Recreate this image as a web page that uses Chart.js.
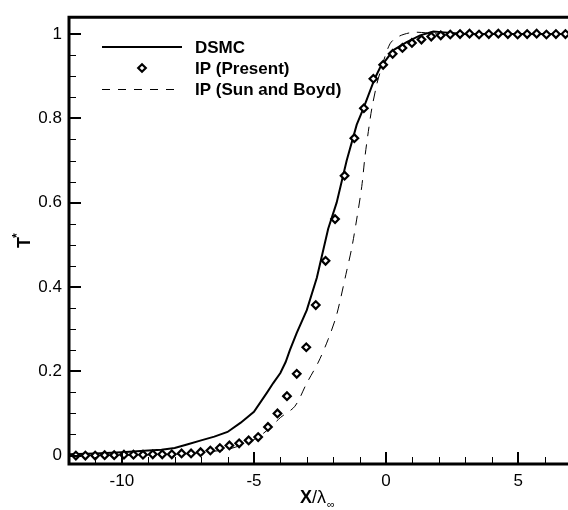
<!DOCTYPE html>
<html>
<head>
<meta charset="utf-8">
<script src="https://cdn.jsdelivr.net/npm/chart.js@4"></script>
<style>
  html, body { margin: 0; padding: 0; background: #fff; overflow: hidden; }
  #wrap { position: relative; width: 580px; height: 510px; }
</style>
</head>
<body>
<div id="wrap"><canvas id="shockChart"></canvas></div>
<script>
const xTicks = [-10, -5, 0, 5]
const yTicks = [0, 0.2, 0.4, 0.6, 0.8, 1]

// DSMC temperature profile
const dsmcX = [-12, -11, -10, -9, -8.5, -8, -7.5, -7, -6.5, -6, -5.5, -5, -4.5, -4.27, -4, -3.8, -3.64, -3.38, -3.0, -2.62, -2.19, -1.87, -1.49, -1.11, -0.86, -0.43, -0.23, 0.28, 0.78, 1.29, 1.79, 2.2, 3, 4, 5, 6, 7]
const dsmcY = [0.003, 0.005, 0.008, 0.012, 0.014, 0.018, 0.027, 0.036, 0.045, 0.056, 0.078, 0.104, 0.15, 0.172, 0.196, 0.222, 0.25, 0.291, 0.345, 0.422, 0.538, 0.6, 0.7, 0.785, 0.823, 0.894, 0.92, 0.962, 0.981, 0.997, 1.006, 1.004, 1.0, 1.0, 1.0, 1.0, 1.0]

// IP (Present) markers
const ipX = [-11.74, -11.38, -11.01, -10.65, -10.29, -9.92, -9.56, -9.2, -8.83, -8.47, -8.11, -7.74, -7.38, -7.02, -6.65, -6.29, -5.93, -5.56, -5.2, -4.84, -4.47, -4.11, -3.75, -3.38, -3.02, -2.66, -2.29, -1.93, -1.57, -1.2, -0.84, -0.48, -0.11, 0.25, 0.62, 0.98, 1.34, 1.71, 2.07, 2.43, 2.8, 3.16, 3.52, 3.89, 4.25, 4.61, 4.98, 5.34, 5.7, 6.07, 6.43, 6.79]
const ipY = [0.0, 0.0, 0.0, 0.001, 0.001, 0.002, 0.002, 0.002, 0.003, 0.003, 0.003, 0.005, 0.005, 0.008, 0.012, 0.018, 0.024, 0.029, 0.036, 0.044, 0.068, 0.1, 0.141, 0.194, 0.257, 0.357, 0.462, 0.561, 0.664, 0.753, 0.824, 0.894, 0.927, 0.953, 0.967, 0.979, 0.987, 0.994, 0.997, 0.999, 1.0, 1.001, 0.999, 1.0, 1.001, 1.0, 0.999, 1.0, 1.001, 0.999, 1.0, 1.0]

// IP (Sun and Boyd)
const sbX = [-12, -8, -6, -5, -4.5, -4, -3.45, -3.0, -2.56, -2.19, -1.87, -1.49, -1.3, -1.11, -0.92, -0.8, -0.67, -0.54, -0.35, -0.23, 0.15, 0.5, 1.0, 1.5, 2, 7]
const sbY = [0.0, 0.003, 0.015, 0.038, 0.06, 0.09, 0.117, 0.172, 0.222, 0.276, 0.334, 0.438, 0.492, 0.561, 0.638, 0.708, 0.769, 0.823, 0.881, 0.908, 0.977, 0.995, 1.004, 1.003, 1.0, 1.0]

const FONT = "'Liberation Sans', Arial, Helvetica, sans-serif"

function pts(xs, ys) {
  return xs.map((x, i) => ({ x: x, y: ys[i] }))
}

function diamond(ctx, x, y, r) {
  ctx.beginPath()
  ctx.moveTo(x, y - r)
  ctx.lineTo(x + r, y)
  ctx.lineTo(x, y + r)
  ctx.lineTo(x - r, y)
  ctx.closePath()
  ctx.fillStyle = '#fff'
  ctx.fill()
  ctx.lineWidth = 2.2
  ctx.strokeStyle = '#000'
  ctx.stroke()
}

const framePlugin = {
  id: 'frame',
  afterDraw(chart) {
    const ctx = chart.ctx
    const a = chart.chartArea
    const xs = chart.scales.x
    const ys = chart.scales.y
    ctx.save()
    ctx.strokeStyle = '#000'
    ctx.lineCap = 'butt'

    // inward ticks
    ctx.lineWidth = 1
    for (let v = -11; v <= 7; v++) {
      if (v % 5 === 0) continue
      const px = Math.round(xs.getPixelForValue(v)) + 0.5
      ctx.beginPath(); ctx.moveTo(px, a.bottom); ctx.lineTo(px, a.bottom - 7); ctx.stroke()
    }
    for (let k = 1; k <= 20; k++) {
      if (k % 4 === 0) continue
      const py = Math.round(ys.getPixelForValue(k * 0.05)) + 0.5
      ctx.beginPath(); ctx.moveTo(a.left, py); ctx.lineTo(a.left + 7, py); ctx.stroke()
    }
    ctx.lineWidth = 2
    xTicks.forEach((v) => {
      const px = Math.round(xs.getPixelForValue(v))
      ctx.beginPath(); ctx.moveTo(px, a.bottom); ctx.lineTo(px, a.bottom - 12); ctx.stroke()
    })
    yTicks.forEach((v) => {
      const py = Math.round(ys.getPixelForValue(v))
      ctx.beginPath(); ctx.moveTo(a.left, py); ctx.lineTo(a.left + 12, py); ctx.stroke()
    })

    // frame
    ctx.lineWidth = 3
    ctx.beginPath()
    ctx.moveTo(a.left, a.top)
    ctx.lineTo(a.right, a.top)
    ctx.lineTo(a.right, a.bottom)
    ctx.lineTo(a.left, a.bottom)
    ctx.closePath()
    ctx.stroke()

    // legend
    const lx0 = 102, lx1 = 182, tx = 195
    const rows = [47, 68, 89]
    ctx.lineWidth = 2
    ctx.beginPath(); ctx.moveTo(lx0, rows[0]); ctx.lineTo(lx1, rows[0]); ctx.stroke()
    diamond(ctx, 142, rows[1], 3.8)
    ctx.lineWidth = 1
    ctx.setLineDash([8, 8])
    ctx.beginPath(); ctx.moveTo(lx0, rows[2] + 0.5); ctx.lineTo(lx1, rows[2] + 0.5); ctx.stroke()
    ctx.setLineDash([])
    ctx.fillStyle = '#000'
    ctx.font = 'bold 17px ' + FONT
    ctx.textAlign = 'left'
    ctx.textBaseline = 'middle'
    ctx.fillText('DSMC', tx, rows[0] + 1)
    ctx.fillText('IP (Present)', tx, rows[1] + 1)
    ctx.fillText('IP (Sun and Boyd)', tx, rows[2] + 1)

    // x axis title: X/λ∞
    ctx.textBaseline = 'alphabetic'
    let cx = 300
    ctx.font = 'bold 18px ' + FONT
    ctx.fillText('X', cx, 503)
    cx += ctx.measureText('X').width
    ctx.font = '18px ' + FONT
    ctx.fillText('/λ', cx, 503)
    cx += ctx.measureText('/λ').width + 1
    ctx.font = '11px ' + FONT
    ctx.fillText('∞', cx, 508)

    // y axis title: T*
    ctx.save()
    ctx.translate(30, 248)
    ctx.rotate(-Math.PI / 2)
    ctx.font = 'bold 18px ' + FONT
    ctx.fillText('T', 0, 0)
    const tw = ctx.measureText('T').width
    ctx.font = 'bold 12px ' + FONT
    ctx.fillText('*', tw - 1, -9)
    ctx.restore()

    ctx.restore()
  }
}

new Chart(document.getElementById('shockChart'), {
  type: 'scatter',
  data: {
    datasets: [
      {
        label: 'DSMC',
        data: pts(dsmcX, dsmcY),
        showLine: true,
        borderColor: '#000',
        borderWidth: 2,
        pointRadius: 0,
        tension: 0,
        order: 2,
      },
      {
        label: 'IP (Present)',
        data: pts(ipX, ipY),
        showLine: false,
        pointStyle: 'rectRot',
        pointRadius: 3.8,
        pointBorderWidth: 2.2,
        pointBorderColor: '#000',
        pointBackgroundColor: '#fff',
        order: 1,
      },
      {
        label: 'IP (Sun and Boyd)',
        data: pts(sbX, sbY),
        showLine: true,
        borderColor: '#000',
        borderWidth: 1,
        borderDash: [10, 8],
        pointRadius: 0,
        tension: 0.3,
        order: 3,
      },
    ],
  },
  options: {
    responsive: true,
    maintainAspectRatio: false,
    animation: false,
    layout: { padding: { left: 0, right: 9, top: 6, bottom: 0 } },
    plugins: {
      legend: { display: false },
      tooltip: { enabled: false },
    },
    scales: {
      x: {
        type: 'linear',
        min: -12,
        max: 7,
        grid: { display: false, drawTicks: false },
        border: { display: false },
        afterBuildTicks: (s) => { s.ticks = xTicks.map((v) => ({ value: v })) },
        afterFit: (s) => { s.height = 46 },
        ticks: {
          padding: 7,
          color: '#000',
          font: { family: FONT, size: 17 },
          callback: (v) => String(v),
        },
      },
      y: {
        type: 'linear',
        min: -0.02,
        max: 1.04,
        grid: { display: false, drawTicks: false },
        border: { display: false },
        afterBuildTicks: (s) => { s.ticks = yTicks.map((v) => ({ value: v })) },
        afterFit: (s) => { s.width = 69 },
        ticks: {
          padding: 7,
          color: '#000',
          font: { family: FONT, size: 17 },
          callback: (v) => String(v),
        },
      },
    },
  },
  plugins: [framePlugin],
})
</script>
</body>
</html>
